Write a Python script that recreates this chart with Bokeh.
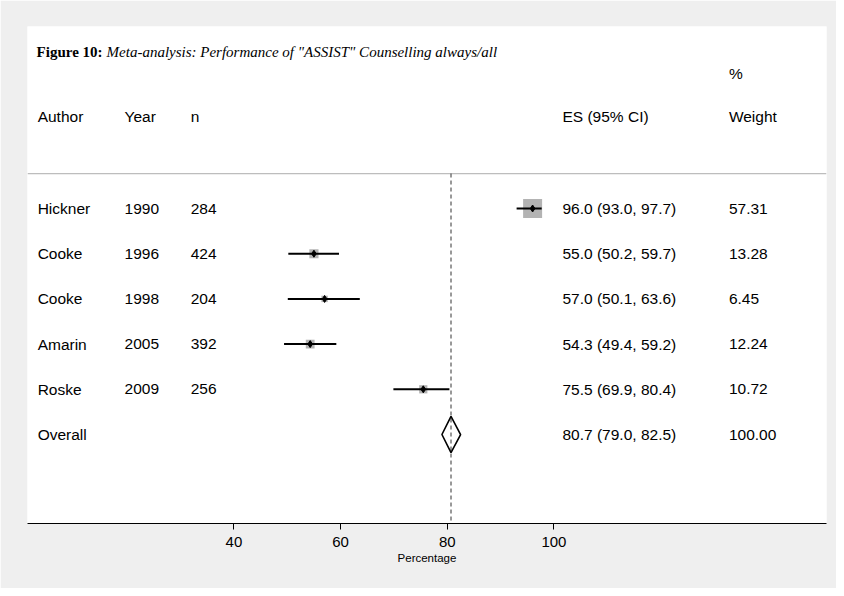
from bokeh.plotting import figure
from bokeh.models import Range1d, FixedTicker, ColumnDataSource
from bokeh.core.properties import value
from bokeh.embed import file_html
from bokeh.resources import INLINE

# ---- data ----
authors = ["Hickner", "Cooke", "Cooke", "Amarin", "Roske"]
years = ["1990", "1996", "1998", "2005", "2009"]
ns = ["284", "424", "204", "392", "256"]
es = [96.0, 55.0, 57.0, 54.3, 75.5]
lo = [93.0, 50.2, 50.1, 49.4, 69.9]
hi = [97.7, 59.7, 63.6, 59.2, 80.4]
weights = [57.31, 13.28, 6.45, 12.24, 10.72]
overall_label = "Overall"
overall_es, overall_lo, overall_hi, overall_w = 80.7, 79.0, 82.5, 100.00
x_ticks = [40, 60, 80, 100]
headers = ["Author", "Year", "n", "ES (95% CI)", "Weight"]
title_bold = "Figure 10:"
title_italic = 'Meta-analysis: Performance of "ASSIST" Counselling always/all'
x_label = "Percentage"

# ---- layout constants ----
SANS = "Liberation Sans"
SERIF = "Liberation Serif"
COL_X = [3.2, 19.5, 31.9, 101.6, 132.8]   # column x positions (data units)
HEADER_Y = -1.03
PCT_Y = -1.99
TITLE_Y = -2.47
SEP_Y = 0.226
FS = "15.5px"
X0, X1 = 1.3, 151.1
Y_BOT, Y_TOP = 7.969, -3.027

rows = list(range(1, len(authors) + 1))
overall_row = len(authors) + 1

p = figure(width=836, height=588, output_backend="svg", toolbar_location=None,
           x_range=Range1d(X0, X1), y_range=Range1d(Y_BOT, Y_TOP),
           y_axis_location=None, min_border_left=27, min_border_right=10,
           min_border_top=26, min_border_bottom=65)
p.background_fill_color = "white"
p.border_fill_color = "#efefef"
p.outline_line_color = None
p.xgrid.visible = False
p.ygrid.visible = False

ax = p.xaxis[0]
ax.ticker = FixedTicker(ticks=x_ticks)
ax.minor_tick_line_color = None
ax.major_tick_in = 0
ax.major_tick_out = 6
ax.axis_line_color = "black"
ax.major_tick_line_color = "black"
ax.major_label_text_font = SANS
ax.major_label_text_font_size = "15px"
ax.major_label_text_color = "black"
ax.major_label_standoff = 7
ax.axis_label = x_label
ax.axis_label_text_font = SANS
ax.axis_label_text_font_size = "11.5px"
ax.axis_label_text_font_style = "normal"
ax.axis_label_text_color = "black"
ax.axis_label_standoff = 2

# separator line
p.segment(x0=[X0], x1=[X1], y0=[SEP_Y], y1=[SEP_Y], line_color="#bdbdbd", line_width=1.2)

# dashed overall line
p.segment(x0=[overall_es], x1=[overall_es], y0=[SEP_Y], y1=[Y_BOT],
          line_color="#333333", line_width=1, line_dash="4 3")

# weight boxes
sides = [19.0 * (w / max(weights)) ** 0.5 for w in weights]
src = ColumnDataSource(dict(es=es, lo=lo, hi=hi, row=rows, side=sides))
p.rect(x="es", y="row", width="side", height="side", width_units="screen",
       height_units="screen", source=src, fill_color="#b3b3b3", line_color=None)
p.segment(x0="lo", x1="hi", y0="row", y1="row", source=src, line_color="black", line_width=2)
p.scatter(x="es", y="row", marker="diamond", size=7, source=src, color="black")

# overall diamond
p.patch(x=[overall_lo, overall_es, overall_hi, overall_es],
        y=[overall_row, overall_row - 0.4, overall_row, overall_row + 0.4],
        fill_alpha=0, line_color="black", line_width=1.6)

# text columns
es_txt = [f"{e:.1f} ({l:.1f}, {h:.1f})" for e, l, h in zip(es, lo, hi)] + \
         [f"{overall_es:.1f} ({overall_lo:.1f}, {overall_hi:.1f})"]
w_txt = [f"{w:.2f}" for w in weights] + [f"{overall_w:.2f}"]
all_rows = rows + [overall_row]
cols = [authors + [overall_label], years + [""], ns + [""], es_txt, w_txt]
for cx, col in zip(COL_X, cols):
    p.text(x=[cx] * len(col), y=all_rows, text=col, text_font=value(SANS),
           text_font_size=FS, text_baseline="middle", text_align="left", text_color="black")

# headers
p.text(x=COL_X, y=[HEADER_Y] * len(headers), text=headers, text_font=value(SANS),
       text_font_size=FS, text_baseline="middle", text_align="left", text_color="black")
p.text(x=[COL_X[4]], y=[PCT_Y], text=["%"], text_font=value(SANS),
       text_font_size=FS, text_baseline="middle", text_align="left", text_color="black")

# title
p.text(x=[3.0], y=[TITLE_Y], text=[title_bold], text_font=value(SERIF), text_font_style="bold",
       text_font_size="15px", text_baseline="middle", text_align="left", text_color="black")
p.text(x=[3.0], y=[TITLE_Y], x_offset=70, text=[title_italic], text_font=value(SERIF),
       text_font_style="italic", text_font_size="15px", text_baseline="middle",
       text_align="left", text_color="black")

open("out.html", "w").write(file_html(p, INLINE))
